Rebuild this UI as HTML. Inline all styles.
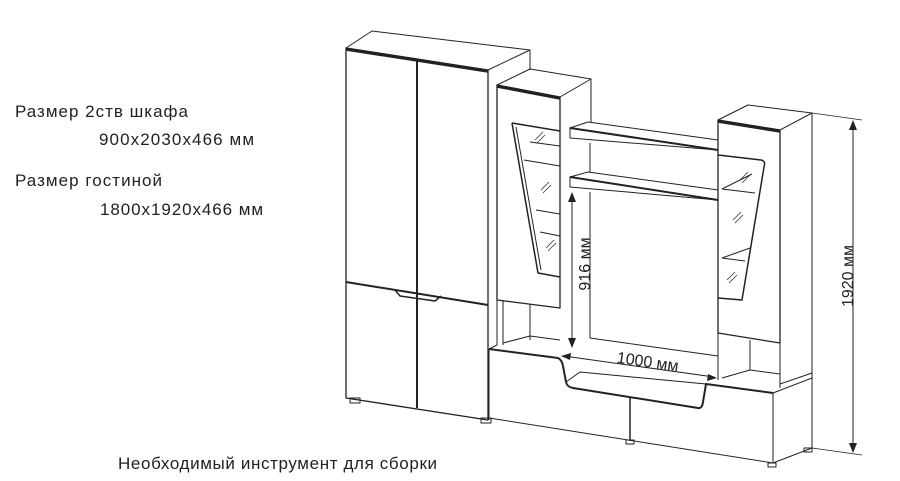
<!DOCTYPE html>
<html><head><meta charset="utf-8"><style>
html,body{margin:0;padding:0;background:#fff;}
svg{display:block;}
text{font-family:"Liberation Sans",sans-serif;fill:#222;}
</style></head><body>
<svg width="900" height="481" viewBox="0 0 900 481" xmlns="http://www.w3.org/2000/svg">
<text x="15" y="117" font-size="17" textLength="173">Размер 2ств шкафа</text>
<text x="99" y="145" font-size="17" textLength="155">900x2030x466 мм</text>
<text x="15" y="186" font-size="17" textLength="147">Размер гостиной</text>
<text x="100" y="215" font-size="17" textLength="163">1800x1920x466 мм</text>
<text x="118" y="469" font-size="17" textLength="319">Необходимый инструмент для сборки</text>

<g fill="none" stroke="#222" stroke-width="1" stroke-linejoin="round">
<!-- wardrobe -->
<path d="M346,48 L372,31 L530,50 L488,70 Z" />
<path d="M346,48 L488,70 L488,420 L346,398 Z" stroke-width="1.3"/>
<path d="M346,49.5 L488,71.5" stroke-width="2.5"/>
<line x1="530" y1="50" x2="530" y2="70"/>
<line x1="417" y1="59" x2="417" y2="408" stroke-width="2"/>
<line x1="346" y1="282" x2="488" y2="305" stroke-width="2"/>
<path d="M395,290 L400,296 L435,301 L441,296" stroke-width="1.5"/>
<rect x="350" y="398" width="10" height="5"/>
<rect x="481" y="418" width="10" height="5"/>
<!-- left column -->
<path d="M497,85 L530,69 L591,79 L560,97 Z"/>
<path d="M497,85 L560,97 L560,308 L497,300 Z" stroke-width="1.3"/>
<path d="M497,86.5 L560,98.5" stroke-width="2.5"/>
<line x1="591" y1="79" x2="591" y2="122"/>
<path d="M512,123 L560,131 M512,123 L538,273 L560,277" stroke-width="1.5"/>
<path d="M516,127 L541,270"/>
<line x1="530" y1="142" x2="560" y2="146"/><line x1="524" y1="160" x2="560" y2="166"/>
<line x1="536" y1="210" x2="560" y2="214"/><line x1="540" y1="232" x2="560" y2="236"/>
<path d="M535,140 l8,-8 M537,143 l8,-8 M541,190 l8,-8 M543,193 l8,-8 M546,248 l8,-8 M548,251 l8,-8" stroke-width="0.7"/>
<line x1="497" y1="300" x2="497" y2="345"/><line x1="503" y1="300" x2="503" y2="345"/>
<line x1="530" y1="304" x2="530" y2="340"/><line x1="503" y1="343" x2="530" y2="336"/>
<line x1="530" y1="336" x2="560" y2="340"/>
<!-- shelves -->
<path d="M570,128 L588,122 L718,140 L718,150 L570,138 Z"/>
<path d="M570,128 L718,150" stroke-width="2"/>
<path d="M570,177 L588,172 L718,190 L718,200 L570,187 Z"/>
<path d="M570,177 L718,200" stroke-width="2"/>
<line x1="590" y1="143" x2="590" y2="172"/><line x1="590" y1="192" x2="590" y2="338"/>
<line x1="590" y1="338" x2="718" y2="356"/>
<!-- right column -->
<path d="M718,120 L748,105 L812,113 L780,130 Z"/>
<path d="M718,120 L780,130 L780,343 L718,333 Z" stroke-width="1.3"/>
<path d="M718,121.5 L780,131.5" stroke-width="2.5"/>
<path d="M812,113 L812,448"/>
<path d="M718,155 L761,160 Q766,161 764,167 L742,300 L718,298" stroke-width="1.5"/>
<line x1="722" y1="189" x2="752" y2="174"/><line x1="722" y1="189" x2="755" y2="193"/>
<line x1="722" y1="258" x2="750" y2="248"/><line x1="722" y1="258" x2="745" y2="261"/>
<path d="M740,180 l8,-8 M742,183 l8,-8 M733,220 l8,-8 M735,223 l8,-8 M727,280 l8,-8 M729,283 l8,-8" stroke-width="0.7"/>
<line x1="718" y1="333" x2="718" y2="380"/><line x1="750" y1="340" x2="750" y2="370"/>
<line x1="722" y1="378" x2="750" y2="370"/><line x1="750" y1="370" x2="780" y2="374"/>
<line x1="780" y1="343" x2="780" y2="388"/>
<!-- base -->
<path d="M489,349 L497,345"/><path d="M773,393 L812,378"/><path d="M780,384 L812,373"/>
<path d="M489,349 L558,358 Q562,360 563,366 L566,382 Q567,387 573,388 L698,408 Q702,409 703,402 L706,384 L773,393" stroke-width="2"/>
<path d="M566,382 L580,372 L706,384"/>
<path d="M489,349 L489,420"/>
<path d="M773,393 L773,463"/>
<path d="M489,418 L773,463"/>
<path d="M812,448 L773,463"/>
<line x1="630" y1="398" x2="630" y2="441" stroke-width="1.5"/>
<rect x="626" y="440" width="8" height="4"/><rect x="768" y="463" width="8" height="4"/><rect x="804" y="448" width="8" height="4"/>
<!-- dimensions -->
<line x1="812" y1="113" x2="862" y2="120" stroke-width="0.7"/>
<line x1="812" y1="448" x2="862" y2="455" stroke-width="0.7"/>
<line x1="853" y1="124" x2="853" y2="450"/>
<line x1="572" y1="194" x2="572" y2="345"/>
<line x1="564" y1="356" x2="714" y2="377"/>
</g>
<g fill="#222">
<path d="M853,120 l-4,10 h8 Z"/><path d="M853,453 l-4,-10 h8 Z"/>
<path d="M572,192 l-4,10 h8 Z"/><path d="M572,348 l-4,-10 h8 Z"/>
<path d="M561,356 l10,-3 l-1,7 Z"/><path d="M717,378 l-10,3 l1,-7 Z"/>
</g>
<text transform="translate(853,276) rotate(-90)" font-size="16" text-anchor="middle">1920 мм</text>
<text transform="translate(590,264) rotate(-90)" font-size="16" text-anchor="middle">916 мм</text>
<text transform="translate(647,367) rotate(8)" font-size="16" text-anchor="middle">1000 мм</text>
</svg>
</body></html>
